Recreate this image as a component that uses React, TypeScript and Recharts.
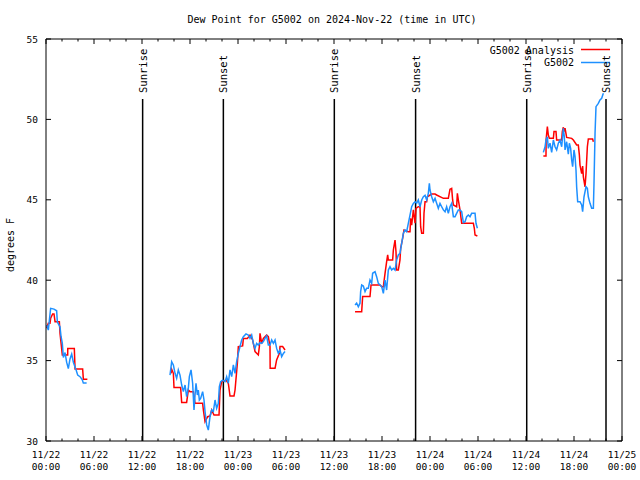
import { LineChart, Line, XAxis, YAxis, ReferenceLine } from 'recharts';

// hours since 11/22 00:00 UTC; null breaks the line between reporting periods
const analysisHours = [
  0.08, 0.29, 0.5, 0.58, 0.83, 1.0, 1.13, 1.67, 1.75, 2.04, 2.71, 2.72, 3.54, 3.63, 4.58, 4.67, 5.17,
  10,
  15.63, 15.71, 15.92, 16.0, 16.83, 16.96, 17.58, 17.79, 18.0, 18.42, 18.63, 19.58, 19.67, 19.88, 20.21, 20.5,
  20.71, 21.0, 21.63, 21.75, 21.96, 22.5, 22.79, 23.0, 23.5, 23.63, 23.92, 24.04, 24.58, 24.67, 25.17, 25.5,
  25.83, 26.13, 26.54, 26.67, 26.75, 26.96, 27.17, 27.58, 27.79, 28.0, 28.02, 28.63, 28.83, 29.17, 29.25,
  29.58, 29.88,
  34,
  38.63, 39.46, 39.58, 40.5, 40.63, 41.75, 41.96, 42.17, 42.38, 42.58, 42.71, 42.79, 43.33, 43.42, 43.63,
  43.75, 43.83, 44.04, 44.25, 44.33, 44.58, 44.75, 45.29, 45.5, 45.58, 45.71, 45.92, 46.13, 46.25, 46.54,
  46.75, 46.83, 46.96, 47.17, 47.25, 47.38, 47.58, 47.67, 48.21, 48.63, 48.83, 49.67, 50.29, 50.5, 50.71,
  50.83, 50.92, 51.33, 51.42, 51.54, 51.75, 51.96, 53.42, 53.54, 53.63, 53.92,
  57,
  62.17, 62.5, 62.51, 62.67, 62.79, 62.92, 63.42, 63.5, 63.75, 63.83, 64.46, 64.54, 64.67, 64.75, 64.88,
  65.08, 65.71, 65.92, 66.33, 66.54, 66.67, 66.75, 66.96, 67.08, 67.17, 67.38, 67.5, 67.67, 67.79, 68.33,
  68.42,
];
const analysisValues = [
  37.01, 37.32, 37.32, 37.63, 37.9, 37.9, 37.42, 37.42, 36.7, 35.35, 35.35, 35.76, 35.76, 34.48, 34.48, 33.84, 33.84,
  null,
  34.21, 34.46, 34.21, 33.32, 33.32, 32.4, 32.4, 33.17, 33.07, 33.07, 32.34, 32.34, 31.93, 31.2, 31.51, 31.55,
  31.93, 31.62, 31.62, 33.17, 33.69, 33.79, 33.59, 32.8, 32.8, 33.17, 34.83, 35.87, 35.91, 36.38, 36.38, 36.59,
  36.28, 35.56, 35.35, 35.87, 36.7, 36.07, 36.38, 36.59, 36.49, 35.87, 34.52, 34.52, 35.04, 35.45, 35.87,
  35.87, 35.66,
  null,
  38.04, 38.04, 38.98, 38.98, 39.7, 39.7, 39.6, 39.6, 40.43, 41.15, 41.57, 41.26, 41.26, 41.88, 42.5,
  41.77, 40.63, 40.63, 41.26, 41.98, 42.6, 43.12, 43.02, 43.02, 43.85, 43.43, 44.37, 43.54, 44.47, 44.57,
  44.57, 43.33, 42.92, 42.92, 44.16, 44.88, 44.88, 45.19, 45.36, 45.36, 45.3, 45.09, 45.09, 45.65, 45.71,
  44.99, 44.68, 44.57, 45.4, 44.99, 44.37, 43.54, 43.54, 43.23, 42.81, 42.75,
  null,
  47.72, 47.72, 48.72, 49.55, 49.03, 48.82, 48.82, 49.24, 49.24, 48.72, 48.72, 49.24, 49.51, 49.24, 49.45,
  48.88, 48.82, 48.72, 48.41, 48.41, 47.79, 47.16, 46.63, 47.1, 46.43, 45.81, 46.63, 48.3, 48.78, 48.78,
  48.61,
];

const stationHours = [
  0.08, 0.29, 0.58, 1.0, 1.33, 1.42, 1.75, 1.88, 2.04, 2.17, 2.38, 2.58, 2.79, 3.0, 3.21, 3.42, 3.71, 3.96,
  4.25, 4.54, 4.67, 5.08,
  10,
  15.5, 15.71, 15.92, 16.13, 16.33, 16.54, 16.75, 16.96, 17.17, 17.38, 17.58, 17.79, 17.92, 18.13, 18.33,
  18.5, 18.63, 18.75, 18.92, 19.04, 19.17, 19.33, 19.58, 19.75, 19.88, 20.08, 20.29, 20.5, 20.71, 20.92,
  21.13, 21.33, 21.54, 21.67, 21.83, 22.08, 22.38, 22.58, 22.79, 23.0, 23.21, 23.42, 23.63, 23.83, 24.04,
  24.25, 24.46, 24.67, 25.0, 25.29, 25.5, 25.71, 25.92, 26.13, 26.33, 26.54, 26.75, 26.96, 27.17, 27.38,
  27.58, 27.79, 28.0, 28.21, 28.42, 28.63, 28.83, 29.04, 29.25, 29.46, 29.67, 29.88,
  34,
  38.63, 38.83, 39.04, 39.25, 39.33, 39.46, 39.67, 39.88, 40.08, 40.29, 40.5, 40.71, 40.83, 41.13, 41.33,
  41.54, 41.75, 41.96, 42.17, 42.38, 42.58, 42.79, 43.0, 43.21, 43.42, 43.63, 43.83, 44.04, 44.25, 44.46,
  44.67, 44.88, 45.08, 45.29, 45.5, 45.71, 45.92, 46.13, 46.33, 46.54, 46.75, 46.96, 47.17, 47.38, 47.58,
  47.79, 47.92, 48.0, 48.21, 48.42, 48.63, 48.83, 49.04, 49.25, 49.46, 49.67, 49.88, 50.08, 50.29, 50.5,
  50.71, 50.92, 51.13, 51.33, 51.54, 51.75, 51.96, 52.17, 52.38, 52.58, 52.79, 53.0, 53.21, 53.42, 53.63,
  53.75, 53.92,
  57,
  62.17, 62.38, 62.5, 62.67, 62.79, 63.0, 63.21, 63.42, 63.63, 63.83, 64.04, 64.25, 64.46, 64.67, 64.79,
  64.88, 65.08, 65.29, 65.42, 65.58, 65.71, 65.83, 66.0, 66.13, 66.25, 66.33, 66.46, 66.75, 66.96, 67.08,
  67.25, 67.5, 67.67, 67.79, 68.0, 68.21, 68.42, 68.5, 68.63, 68.75, 69.04, 69.25, 69.46, 69.67,
];
const stationValues = [
  37.21, 36.9, 38.25, 38.2, 38.1, 37.4, 37.1, 36.5, 36.07, 35.2, 35.5, 34.9, 34.5, 35.1, 35.4, 34.9, 34.5, 34.1,
  34.0, 33.8, 33.6, 33.6,
  null,
  34.1, 34.93, 34.73, 34.21, 33.9, 34.42, 34.1, 33.48, 33.07, 33.48, 32.76, 33.28, 34.0, 34.42, 33.59,
  31.93, 32.86, 33.59, 32.86, 33.17, 32.55, 32.65, 33.07, 32.55, 31.83, 31.0, 30.68, 31.51, 31.93, 31.83,
  32.55, 32.03, 32.34, 33.38, 33.69, 33.79, 33.69, 34.0, 33.59, 34.42, 34.0, 34.73, 34.21, 34.93, 35.45,
  35.87, 36.28, 36.49, 36.66, 36.59, 36.38, 36.59, 36.07, 35.76, 36.07, 35.97, 36.11, 36.07, 36.18, 36.38,
  36.53, 35.97, 35.97, 36.28, 36.07, 36.28, 35.76, 35.45, 35.66, 35.25, 35.45, 35.56,
  null,
  38.46, 38.57, 38.35, 38.57, 39.29, 39.7, 39.64, 39.29, 39.5, 39.5, 40.01, 39.8, 40.43, 40.53, 40.22,
  39.8, 39.7, 39.6, 39.18, 40.01, 39.39, 40.63, 40.84, 40.63, 40.74, 40.63, 41.26, 41.57, 41.67, 42.29,
  42.92, 43.12, 43.02, 43.54, 44.05, 44.57, 44.78, 44.88, 44.78, 44.99, 44.57, 44.99, 45.19, 45.28, 44.99,
  45.4, 46.03, 45.61, 45.19, 44.88, 45.09, 44.78, 44.47, 44.78, 44.57, 44.37, 44.26, 44.57, 44.16, 44.57,
  44.78, 43.95, 43.95, 44.16, 44.37, 44.37, 44.26, 43.58, 43.64, 43.95, 44.05, 43.95, 44.16, 44.16, 44.16,
  43.54, 43.23,
  null,
  47.95, 48.3, 48.72, 48.92, 48.2, 48.52, 47.95, 48.72, 48.3, 48.1, 48.52, 48.72, 48.3, 49.45, 48.92,
  48.1, 48.61, 47.84, 48.52, 48.2, 47.46, 47.06, 48.1, 47.68, 46.85, 45.81, 44.88, 44.88, 44.68, 44.26,
  45.19, 45.81, 45.71, 45.19, 44.78, 44.47, 44.47, 46.03, 49.14, 50.79, 51.0, 51.21, 51.31, 51.62,
];

const sunHours = [12.08, 22.17, 36.04, 46.2, 60.09, 70.0];
const sunLabels = ['Sunrise', 'Sunset', 'Sunrise', 'Sunset', 'Sunrise', 'Sunset'];
const sunLineTop = 51.27;

const xTicks = Array.from({ length: 37 }, (_, i) => i * 2);
const xLabelHours = [0, 6, 12, 18, 24, 30, 36, 42, 48, 54, 60, 66, 72];
const xLabelDates = ['11/22', '11/22', '11/22', '11/22', '11/23', '11/23', '11/23', '11/23', '11/24', '11/24', '11/24', '11/24', '11/25'];
const xLabelTimes = ['00:00', '06:00', '12:00', '18:00', '00:00', '06:00', '12:00', '18:00', '00:00', '06:00', '12:00', '18:00', '00:00'];
const yTicks = [30, 35, 40, 45, 50, 55];

const analysisData = analysisHours.map((h, i) => ({ h, v: analysisValues[i] }));
const stationData = stationHours.map((h, i) => ({ h, v: stationValues[i] }));

const FONT = "'DejaVu Sans Mono', 'Liberation Mono', monospace";
const RED = '#ff0000';
const BLUE = '#1e90ff';

function BottomTick({ x, y, payload }: any) {
  const idx = xLabelHours.indexOf(payload.value);
  const major = idx >= 0;
  return (
    <g>
      <line x1={x} y1={y} x2={x} y2={y - (major ? 5 : 2.5)} stroke="#000" />
      {major && (
        <text x={x} y={y + 17} textAnchor="middle" fontFamily={FONT} fontSize={9.5} fill="#000">
          <tspan x={x}>{xLabelDates[idx]}</tspan>
          <tspan x={x} dy={12}>{xLabelTimes[idx]}</tspan>
        </text>
      )}
    </g>
  );
}

function TopTick({ x, y, payload }: any) {
  const major = xLabelHours.includes(payload.value);
  return <line x1={x} y1={y} x2={x} y2={y + (major ? 5 : 2.5)} stroke="#000" />;
}

function LeftTick({ x, y, payload }: any) {
  return (
    <g>
      <line x1={x} y1={y} x2={x + 5} y2={y} stroke="#000" />
      <text x={x - 8} y={y} textAnchor="end" dominantBaseline="central" fontFamily={FONT} fontSize={9.5} fill="#000">
        {payload.value}
      </text>
    </g>
  );
}

function RightTick({ x, y }: any) {
  return <line x1={x} y1={y} x2={x - 5} y2={y} stroke="#000" />;
}

function SunLabel({ viewBox, text }: any) {
  const x = viewBox?.x ?? viewBox?.x1 ?? 0;
  const y = viewBox?.y ?? viewBox?.y1 ?? 0;
  return (
    <text
      transform={`translate(${x},${y - 6}) rotate(-90)`}
      textAnchor="start"
      dominantBaseline="central"
      fontFamily={FONT}
      fontSize={10.5}
      fill="#000"
    >
      {text}
    </text>
  );
}

export default function App() {
  return (
    <div style={{ position: 'absolute', left: 0, top: 0, width: 640, height: 480, background: '#fff' }}>
      <LineChart width={640} height={480} margin={{ top: 38, right: 17, bottom: 9, left: 6 }}>
        <XAxis
          xAxisId={0}
          dataKey="h"
          type="number"
          domain={[0, 72]}
          ticks={xTicks}
          interval={0}
          height={30}
          tickSize={0}
          tickMargin={0}
          tickLine={false}
          tick={<BottomTick />}
          axisLine={{ stroke: '#000' }}
          allowDataOverflow
        />
        <XAxis
          xAxisId="top"
          orientation="top"
          dataKey="h"
          type="number"
          domain={[0, 72]}
          ticks={xTicks}
          interval={0}
          height={1}
          tickSize={0}
          tickMargin={0}
          tickLine={false}
          tick={<TopTick />}
          axisLine={{ stroke: '#000' }}
          allowDataOverflow
        />
        <YAxis
          yAxisId={0}
          type="number"
          domain={[30, 55]}
          ticks={yTicks}
          interval={0}
          width={40}
          tickSize={0}
          tickMargin={0}
          tickLine={false}
          tick={<LeftTick />}
          axisLine={{ stroke: '#000' }}
          allowDataOverflow
        />
        <YAxis
          yAxisId="right"
          orientation="right"
          type="number"
          domain={[30, 55]}
          ticks={yTicks}
          interval={0}
          width={1}
          tickSize={0}
          tickMargin={0}
          tickLine={false}
          tick={<RightTick />}
          axisLine={{ stroke: '#000' }}
          allowDataOverflow
        />
        {sunHours.map((h, i) => (
          <ReferenceLine
            key={i}
            segment={[{ x: h, y: sunLineTop }, { x: h, y: 30 }]}
            stroke="#000"
            strokeWidth={1.5}
            ifOverflow="visible"
            label={(props: any) => <SunLabel {...props} text={sunLabels[i]} />}
          />
        ))}
        <Line
          data={analysisData}
          dataKey="v"
          type="linear"
          stroke={RED}
          strokeWidth={1.5}
          dot={false}
          activeDot={false}
          connectNulls={false}
          isAnimationActive={false}
        />
        <Line
          data={stationData}
          dataKey="v"
          type="linear"
          stroke={BLUE}
          strokeWidth={1.5}
          dot={false}
          activeDot={false}
          connectNulls={false}
          isAnimationActive={false}
        />
        <text x={332} y={23} textAnchor="middle" fontFamily={FONT} fontSize={10} fill="#000">
          Dew Point for G5002 on 2024-Nov-22 (time in UTC)
        </text>
        <text
          transform="translate(10,245) rotate(-90)"
          textAnchor="middle"
          dominantBaseline="central"
          fontFamily={FONT}
          fontSize={10}
          fill="#000"
        >
          degrees F
        </text>
        <g fontFamily={FONT} fontSize={10} fill="#000">
          <text x={574} y={50} textAnchor="end" dominantBaseline="central">G5002 Analysis</text>
          <line x1={581} y1={49.5} x2={610} y2={49.5} stroke={RED} strokeWidth={1.5} />
          <text x={574} y={62.5} textAnchor="end" dominantBaseline="central">G5002</text>
          <line x1={581} y1={62.5} x2={610} y2={62.5} stroke={BLUE} strokeWidth={1.5} />
        </g>
      </LineChart>
    </div>
  );
}
